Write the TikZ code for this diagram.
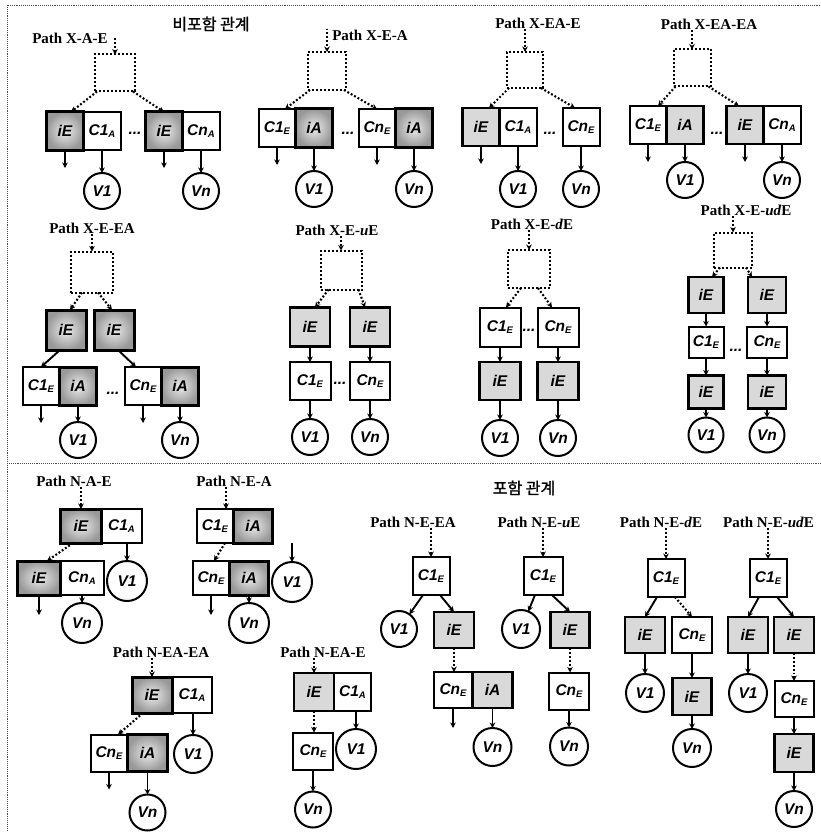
\documentclass[tikz,border=0pt]{standalone}
\usepackage{fontspec}
\usepackage{tikz}
\usetikzlibrary{arrows.meta, positioning}
\setmainfont{Liberation Serif}
\newfontfamily\cellsans{Liberation Sans}
\newfontfamily\krfont[FakeBold=1.5]{Noto Sans CJK KR}
\newcommand{\cellfont}{\cellsans\bfseries\itshape\fontsize{15.5}{15.5}\selectfont}
\newcommand{\labfont}{\bfseries\fontsize{15}{17}\selectfont}
\newcommand{\lsub}[1]{\raisebox{-2.5pt}{\fontsize{9.5}{9.5}\selectfont #1}}

\begin{document}
\begin{tikzpicture}[x=1pt, y=-1pt,
    cell/.style={draw, line width=2pt, minimum width=37pt, minimum height=38pt,
                 inner sep=0pt, outer sep=0pt, font=\cellfont},
    dcell/.style={cell, line width=3pt, inner color=gray!15, outer color=gray!80},
    lcell/.style={cell, line width=2.6pt, fill=gray!30},
    vtx/.style={circle, draw, line width=2pt, minimum size=36pt, inner sep=0pt,
                outer sep=0pt, font=\cellfont},
    hole/.style={draw, dotted, line width=2pt, minimum width=40pt, minimum height=37pt,
                 inner sep=0pt, outer sep=0pt},
    plabel/.style={font=\labfont, inner sep=1pt},
    ttl/.style={font=\krfont\fontsize{16}{18}\selectfont},
    dots/.style={font=\cellfont, inner sep=0pt},
    conn/.style={-{Stealth[length=5.5pt, width=5.5pt]}, line width=1.9pt},
    dconn/.style={conn, dotted, line width=2.1pt},
    frameline/.style={gray!60!black, densely dotted, line width=0.9pt},
]
    \useasboundingbox (0,0) rectangle (820,832);

    % Frame
    \draw[frameline] (7,840) -- (7,5) -- (830,5);
    \draw[frameline] (7,463) -- (830,463);
    \node[ttl] (top-ttl) at (211,24) {비포함 관계};
    \node[ttl] (bot-ttl) at (524,488) {포함 관계};

    % Path X-A-E
    \node[plabel] (xae-lab) at (70,38) {Path X-A-E};
    \node[hole] (xae-h) at (115,73) {};
    \node[dcell] (xae-ie1) at (65,131) {iE};
    \node[cell, right=0pt of xae-ie1] (xae-c1) {C1\lsub{A}};
    \node[dots] (xae-dots) at (135,133) {...};
    \node[dcell] (xae-ie2) at (164,131) {iE};
    \node[cell, right=0pt of xae-ie2] (xae-cn) {Cn\lsub{A}};
    \node[vtx, below=23pt of xae-c1] (xae-v1) {V1};
    \node[vtx, below=23pt of xae-cn] (xae-vn) {Vn};
    \coordinate (xae-o1) at ([yshift=-18pt]xae-ie1.south);
    \coordinate (xae-o2) at ([yshift=-18pt]xae-ie2.south);
    \draw[dconn] (xae-h.north |- xae-lab.center) -- (xae-h.north);
    \draw[dconn] ([xshift=2pt]xae-h.south west) -- ([xshift=6pt]xae-ie1.north);
    \draw[dconn] ([xshift=-2pt]xae-h.south east) -- (xae-ie2.north);
    \draw[conn] (xae-ie1) -- (xae-o1);
    \draw[conn] (xae-c1) -- (xae-v1);
    \draw[conn] (xae-ie2) -- (xae-o2);
    \draw[conn] (xae-cn) -- (xae-vn);

    % Path X-E-A
    \node[plabel] (xea-lab) at (370,35) {Path X-E-A};
    \node[hole, minimum width=38pt, minimum height=38pt] (xea-h) at (327,71) {};
    \node[cell] (xea-c1) at (277,128) {C1\lsub{E}};
    \node[dcell, right=0pt of xea-c1] (xea-ia1) {iA};
    \node[dots] (xea-dots) at (348,133) {...};
    \node[cell] (xea-cn) at (377,128) {Cn\lsub{E}};
    \node[dcell, right=0pt of xea-cn] (xea-ia2) {iA};
    \node[vtx, below=24pt of xea-ia1] (xea-v1) {V1};
    \node[vtx, below=24pt of xea-ia2] (xea-vn) {Vn};
    \coordinate (xea-o1) at ([yshift=-18pt]xea-c1.south);
    \coordinate (xea-o2) at ([yshift=-18pt]xea-cn.south);
    \draw[dconn] (xea-h.north |- xea-lab.north) -- (xea-h.north);
    \draw[dconn] ([xshift=2pt]xea-h.south west) -- ([xshift=8pt]xea-c1.north);
    \draw[dconn] ([xshift=-2pt]xea-h.south east) -- (xea-cn.north);
    \draw[conn] (xea-c1) -- (xea-o1);
    \draw[conn] (xea-ia1) -- (xea-v1);
    \draw[conn] (xea-cn) -- (xea-o2);
    \draw[conn] (xea-ia2) -- (xea-vn);

    % Path X-EA-E
    \node[plabel] (xeae-lab) at (538,23) {Path X-EA-E};
    \node[hole, minimum width=36pt, minimum height=36pt] (xeae-h) at (525,70) {};
    \node[lcell] (xeae-ie) at (481,127) {iE};
    \node[cell, right=0pt of xeae-ie] (xeae-c1) {C1\lsub{A}};
    \node[dots] (xeae-dots) at (550,133) {...};
    \node[cell] (xeae-cn) at (581,127) {Cn\lsub{E}};
    \node[vtx, below=25pt of xeae-c1] (xeae-v1) {V1};
    \node[vtx, below=25pt of xeae-cn] (xeae-vn) {Vn};
    \coordinate (xeae-o1) at ([yshift=-18pt]xeae-ie.south);
    \draw[dconn] (xeae-h.north |- xeae-lab.south) -- (xeae-h.north);
    \draw[dconn] ([xshift=2pt]xeae-h.south west) -- ([xshift=8pt]xeae-ie.north);
    \draw[dconn] ([xshift=-2pt]xeae-h.south east) -- ([xshift=-6pt]xeae-cn.north);
    \draw[conn] (xeae-ie) -- (xeae-o1);
    \draw[conn] (xeae-c1) -- (xeae-v1);
    \draw[conn] (xeae-cn) -- (xeae-vn);

    % Path X-EA-EA
    \node[plabel] (xeaea-lab) at (709,24) {Path X-EA-EA};
    \node[hole, minimum width=37pt, minimum height=37pt] (xeaea-h) at (692,68) {};
    \node[cell] (xeaea-c1) at (648,125) {C1\lsub{E}};
    \node[lcell, right=0pt of xeaea-c1] (xeaea-ia) {iA};
    \node[dots] (xeaea-dots) at (717,133) {...};
    \node[lcell] (xeaea-ie) at (745,125) {iE};
    \node[cell, right=0pt of xeaea-ie] (xeaea-cn) {Cn\lsub{A}};
    \node[vtx, below=18pt of xeaea-ia] (xeaea-v1) {V1};
    \node[vtx, below=18pt of xeaea-cn] (xeaea-vn) {Vn};
    \coordinate (xeaea-o1) at ([yshift=-18pt]xeaea-c1.south);
    \coordinate (xeaea-o2) at ([yshift=-18pt]xeaea-ie.south);
    \draw[dconn] (xeaea-h.north |- xeaea-lab.south) -- (xeaea-h.north);
    \draw[dconn] ([xshift=2pt]xeaea-h.south west) -- ([xshift=10pt]xeaea-c1.north);
    \draw[dconn] ([xshift=-2pt]xeaea-h.south east) -- ([xshift=-6pt]xeaea-ie.north);
    \draw[conn] (xeaea-c1) -- (xeaea-o1);
    \draw[conn] (xeaea-ia) -- (xeaea-v1);
    \draw[conn] (xeaea-ie) -- (xeaea-o2);
    \draw[conn] (xeaea-cn) -- (xeaea-vn);

    % Path X-E-EA
    \node[plabel] (xeea-lab) at (92,228) {Path X-E-EA};
    \node[hole, minimum width=42pt, minimum height=41pt] (xeea-h) at (92,272) {};
    \node[dcell, minimum width=40pt, minimum height=40pt] (xeea-ie1) at (66,330) {iE};
    \node[dcell, minimum width=40pt, minimum height=40pt] (xeea-ie2) at (114,330) {iE};
    \node[cell] (xeea-c1) at (41,386) {C1\lsub{E}};
    \node[dcell, right=0pt of xeea-c1] (xeea-ia1) {iA};
    \node[dots] (xeea-dots) at (113,393) {...};
    \node[cell] (xeea-cn) at (143,386) {Cn\lsub{E}};
    \node[dcell, right=0pt of xeea-cn] (xeea-ia2) {iA};
    \node[vtx, below=17pt of xeea-ia1] (xeea-v1) {V1};
    \node[vtx, below=17pt of xeea-ia2] (xeea-vn) {Vn};
    \coordinate (xeea-o1) at ([yshift=-18pt]xeea-c1.south);
    \coordinate (xeea-o2) at ([yshift=-18pt]xeea-cn.south);
    \draw[dconn] (xeea-h.north |- xeea-lab.south) -- (xeea-h.north);
    \draw[dconn] ([xshift=-10pt]xeea-h.south) -- ([xshift=4pt]xeea-ie1.north);
    \draw[dconn] ([xshift=6pt]xeea-h.south) -- ([xshift=-2pt]xeea-ie2.north);
    \draw[conn] ([xshift=-6pt]xeea-ie1.south) -- (xeea-c1.north);
    \draw[conn] ([xshift=4pt]xeea-ie2.south) -- ([xshift=-7pt]xeea-cn.north);
    \draw[conn] (xeea-c1) -- (xeea-o1);
    \draw[conn] (xeea-ia1) -- (xeea-v1);
    \draw[conn] (xeea-cn) -- (xeea-o2);
    \draw[conn] (xeea-ia2) -- (xeea-vn);

    % Path X-E-uE
    \node[plabel] (xeue-lab) at (337,230) {Path X-E-\textit{u}E};
    \node[hole, minimum width=41pt, minimum height=39pt] (xeue-h) at (341,270) {};
    \node[lcell, minimum width=40pt, minimum height=39pt] (xeue-ie1) at (310,327) {iE};
    \node[lcell, minimum width=40pt, minimum height=39pt] (xeue-ie2) at (370,327) {iE};
    \node[cell, minimum width=41pt] (xeue-c1) at (310,381) {C1\lsub{E}};
    \node[cell, minimum width=40pt] (xeue-cn) at (370,381) {Cn\lsub{E}};
    \node[dots] (xeue-dots) at (340,383) {...};
    \node[vtx, below=19pt of xeue-c1] (xeue-v1) {V1};
    \node[vtx, below=19pt of xeue-cn] (xeue-vn) {Vn};
    \draw[dconn] (xeue-h.north |- xeue-lab.south) -- (xeue-h.north);
    \draw[dconn] ([xshift=8pt]xeue-h.south west) -- ([xshift=5pt]xeue-ie1.north);
    \draw[dconn] ([xshift=-3pt]xeue-h.south east) -- ([xshift=-5pt]xeue-ie2.north);
    \draw[conn] (xeue-ie1) -- (xeue-c1);
    \draw[conn] (xeue-ie2) -- (xeue-cn);
    \draw[conn] (xeue-c1) -- (xeue-v1);
    \draw[conn] (xeue-cn) -- (xeue-vn);

    % Path X-E-dE
    \node[plabel] (xede-lab) at (532,224) {Path X-E-\textit{d}E};
    \node[hole, minimum width=42pt, minimum height=38pt] (xede-h) at (529,269) {};
    \node[cell, minimum width=41pt, minimum height=39pt] (xede-c1) at (500,327) {C1\lsub{E}};
    \node[cell, minimum width=41pt, minimum height=39pt] (xede-cn) at (558,327) {Cn\lsub{E}};
    \node[dots] (xede-dots) at (529,330) {...};
    \node[lcell, minimum width=41pt] (xede-ie1) at (500,381) {iE};
    \node[lcell, minimum width=41pt] (xede-ie2) at (558,381) {iE};
    \node[vtx, below=20pt of xede-ie1] (xede-v1) {V1};
    \node[vtx, below=20pt of xede-ie2] (xede-vn) {Vn};
    \draw[dconn] (xede-h.north |- xede-lab.south) -- (xede-h.north);
    \draw[dconn] ([xshift=-8pt]xede-h.south) -- ([xshift=6pt]xede-c1.north);
    \draw[dconn] ([xshift=9pt]xede-h.south) -- ([xshift=-6pt]xede-cn.north);
    \draw[conn] (xede-c1) -- (xede-ie1);
    \draw[conn] (xede-cn) -- (xede-ie2);
    \draw[conn] (xede-ie1) -- (xede-v1);
    \draw[conn] (xede-ie2) -- (xede-vn);

    % Path X-E-udE
    \node[plabel] (xeude-lab) at (746,210) {Path X-E-\textit{ud}E};
    \node[hole, minimum width=38pt, minimum height=35pt] (xeude-h) at (733,250) {};
    \node[lcell, minimum width=35pt, minimum height=36pt] (xeude-ie1) at (706,295) {iE};
    \node[lcell, minimum width=38pt, minimum height=36pt] (xeude-ie2) at (767,295) {iE};
    \node[cell, minimum width=35pt, minimum height=31pt] (xeude-c1) at (706,342) {C1\lsub{E}};
    \node[cell, minimum width=40pt, minimum height=31pt] (xeude-cn) at (767,342) {Cn\lsub{E}};
    \node[dots] (xeude-dots) at (736,350) {...};
    \node[lcell, minimum width=35pt, minimum height=33pt] (xeude-ie3) at (706,392) {iE};
    \node[lcell, minimum width=38pt, minimum height=33pt] (xeude-ie4) at (767,392) {iE};
    \node[vtx, minimum size=35pt, below=9pt of xeude-ie3] (xeude-v1) {V1};
    \node[vtx, minimum size=35pt, below=9pt of xeude-ie4] (xeude-vn) {Vn};
    \draw[dconn] (xeude-h.north |- xeude-lab.south) -- (xeude-h.north);
    \draw[dconn] ([xshift=-13pt]xeude-h.south) -- ([xshift=6pt]xeude-ie1.north);
    \draw[dconn] ([xshift=13pt]xeude-h.south) -- ([xshift=-15pt]xeude-ie2.north);
    \draw[conn] (xeude-ie1) -- (xeude-c1);
    \draw[conn] (xeude-ie2) -- (xeude-cn);
    \draw[conn] (xeude-c1) -- (xeude-ie3);
    \draw[conn] (xeude-cn) -- (xeude-ie4);
    \draw[conn] (xeude-ie3) -- (xeude-v1);
    \draw[conn] (xeude-ie4) -- (xeude-vn);

    % Path N-A-E
    \node[plabel] (nae-lab) at (74,481) {Path N-A-E};
    \node[dcell, minimum width=41pt, minimum height=34pt] (nae-ie1) at (81,526) {iE};
    \node[cell, minimum width=40pt, minimum height=34pt, right=0pt of nae-ie1] (nae-c1) {C1\lsub{A}};
    \node[dcell, minimum width=43pt, minimum height=34pt] (nae-ie2) at (39,578) {iE};
    \node[cell, minimum width=43pt, minimum height=34pt, right=0pt of nae-ie2] (nae-cn) {Cn\lsub{A}};
    \node[vtx, minimum size=40pt] (nae-v1) at (127,581) {V1};
    \node[vtx, minimum size=40pt, below=8pt of nae-cn] (nae-vn) {Vn};
    \coordinate (nae-o1) at ([yshift=-20pt]nae-ie2.south);
    \draw[dconn] (nae-ie1.north |- nae-lab.south) -- (nae-ie1.north);
    \draw[dconn] ([xshift=-8pt]nae-ie1.south) -- ([xshift=8pt]nae-ie2.north);
    \draw[conn] (nae-v1.north |- nae-c1.south) -- (nae-v1.north);
    \draw[conn] (nae-ie2) -- (nae-o1);
    \draw[conn] (nae-cn) -- (nae-vn);

    % Path N-E-A
    \node[plabel] (nea-lab) at (234,481) {Path N-E-A};
    \node[cell, minimum height=34pt] (nea-c1) at (215,526) {C1\lsub{E}};
    \node[dcell, minimum width=39pt, minimum height=34pt, right=0pt of nea-c1] (nea-ia1) {iA};
    \node[cell, minimum height=34pt] (nea-cn) at (211,578) {Cn\lsub{E}};
    \node[dcell, minimum width=39pt, minimum height=34pt, right=0pt of nea-cn] (nea-ia2) {iA};
    \node[vtx, minimum size=40pt] (nea-v1) at (292,582) {V1};
    \node[vtx, minimum size=40pt, below=8pt of nea-ia2] (nea-vn) {Vn};
    \coordinate (nea-o1) at ([yshift=-20pt]nea-cn.south);
    \draw[dconn] ([xshift=11pt]nea-c1.north |- nea-lab.south) -- ([xshift=11pt]nea-c1.north);
    \draw[dconn] ([xshift=10pt]nea-c1.south) -- ([xshift=3pt]nea-cn.north);
    \draw[conn] (nea-v1.north |- nea-ia1.south) -- (nea-v1.north);
    \draw[conn] (nea-cn) -- (nea-o1);
    \draw[conn] (nea-ia2) -- (nea-vn);

    % Path N-EA-EA
    \node[plabel] (neaea-lab) at (161,652) {Path N-EA-EA};
    \node[dcell, minimum width=40pt, minimum height=36pt] (neaea-ie) at (152,695) {iE};
    \node[cell, minimum width=40pt, minimum height=36pt, right=0pt of neaea-ie] (neaea-c1) {C1\lsub{A}};
    \node[cell, minimum height=37pt] (neaea-cn) at (109,753) {Cn\lsub{E}};
    \node[dcell, minimum width=40pt, minimum height=37pt, right=0pt of neaea-cn] (neaea-ia) {iA};
    \node[vtx, minimum size=38pt] (neaea-v1) at (193,754) {V1};
    \node[vtx, below=23pt of neaea-ia] (neaea-vn) {Vn};
    \coordinate (neaea-o1) at ([yshift=-18pt]neaea-cn.south);
    \draw[dconn] (neaea-ie.north |- neaea-lab.south) -- (neaea-ie.north);
    \draw[dconn] ([xshift=-9pt]neaea-ie.south) -- ([xshift=9pt]neaea-cn.north);
    \draw[conn] (neaea-v1.north |- neaea-c1.south) -- (neaea-v1.north);
    \draw[conn] (neaea-cn) -- (neaea-o1);
    \draw[conn] (neaea-ia) -- (neaea-vn);

    % Path N-EA-E
    \node[plabel] (neae-lab) at (323,652) {Path N-EA-E};
    \node[lcell, minimum width=40pt] (neae-ie) at (314,692) {iE};
    \node[cell, right=0pt of neae-ie] (neae-c1) {C1\lsub{A}};
    \node[cell, minimum width=40pt, minimum height=37pt] (neae-cn) at (313,751) {Cn\lsub{E}};
    \node[vtx, minimum size=40pt] (neae-v1) at (356,749) {V1};
    \node[vtx, below=22pt of neae-cn] (neae-vn) {Vn};
    \draw[dconn] (neae-ie.north |- neae-lab.south) -- (neae-ie.north);
    \draw[dconn] (neae-ie.south) -- (neae-ie.south |- neae-cn.north);
    \draw[conn] (neae-v1.north |- neae-c1.south) -- (neae-v1.north);
    \draw[conn] (neae-cn) -- (neae-vn);

    % Path N-E-EA
    \node[plabel] (neea-lab) at (413,522) {Path N-E-EA};
    \node[cell] (neea-c1) at (431,576) {C1\lsub{E}};
    \node[vtx] (neea-v1) at (399,629) {V1};
    \node[lcell, minimum width=40pt, minimum height=36pt] (neea-ie) at (454,630) {iE};
    \node[cell, minimum width=39pt, minimum height=36pt] (neea-cn) at (453,690) {Cn\lsub{E}};
    \node[lcell, minimum width=40pt, minimum height=36pt, right=0pt of neea-cn] (neea-ia) {iA};
    \node[vtx, minimum size=38pt, below=20pt of neea-ia] (neea-vn) {Vn};
    \coordinate (neea-o1) at ([yshift=-20pt]neea-cn.south);
    \draw[dconn] (neea-c1.north |- neea-lab.south) -- (neea-c1.north);
    \draw[conn] ([xshift=-8pt]neea-c1.south) -- (neea-v1);
    \draw[conn] ([xshift=9pt]neea-c1.south) -- (neea-ie.north);
    \draw[dconn] (neea-ie.south) -- (neea-ie.south |- neea-cn.north);
    \draw[conn] (neea-cn) -- (neea-o1);
    \draw[conn] (neea-ia) -- (neea-vn);

    % Path N-E-uE
    \node[plabel] (neue-lab) at (539,522) {Path N-E-\textit{u}E};
    \node[cell, minimum width=39pt] (neue-c1) at (543,576) {C1\lsub{E}};
    \node[vtx, minimum size=38pt] (neue-v1) at (521,629) {V1};
    \node[lcell, minimum width=39pt, minimum height=36pt] (neue-ie) at (570,630) {iE};
    \node[cell, minimum width=40pt, minimum height=37pt] (neue-cn) at (569,691) {Cn\lsub{E}};
    \node[vtx, minimum size=38pt, below=18pt of neue-cn] (neue-vn) {Vn};
    \draw[dconn] (neue-c1.north |- neue-lab.south) -- (neue-c1.north);
    \draw[conn] ([xshift=-8pt]neue-c1.south) -- (neue-v1);
    \draw[conn] ([xshift=9pt]neue-c1.south) -- (neue-ie.north);
    \draw[dconn] (neue-ie.south) -- (neue-ie.south |- neue-cn.north);
    \draw[conn] (neue-cn) -- (neue-vn);

    % Path N-E-dE
    \node[plabel] (nede-lab) at (661,522) {Path N-E-\textit{d}E};
    \node[cell] (nede-c1) at (666,578) {C1\lsub{E}};
    \node[lcell, minimum width=40pt, minimum height=36pt] (nede-ie1) at (645,635) {iE};
    \node[cell, minimum width=40pt, minimum height=36pt] (nede-cn) at (692,635) {Cn\lsub{E}};
    \node[vtx, minimum size=38pt, below=21pt of nede-ie1] (nede-v1) {V1};
    \node[lcell, minimum width=39pt, minimum height=37pt, below=25pt of nede-cn] (nede-ie2) {iE};
    \node[vtx, minimum size=38pt, below=14pt of nede-ie2] (nede-vn) {Vn};
    \draw[dconn] (nede-c1.north |- nede-lab.south) -- (nede-c1.north);
    \draw[conn] ([xshift=-9pt]nede-c1.south) -- (nede-ie1.north);
    \draw[dconn] ([xshift=9pt]nede-c1.south) -- (nede-cn.north);
    \draw[conn] (nede-ie1) -- (nede-v1);
    \draw[conn] (nede-cn) -- (nede-ie2);
    \draw[conn] (nede-ie2) -- (nede-vn);

    % Path N-E-udE
    \node[plabel, anchor=west] (neude-lab) at (722,522) {Path N-E-\textit{ud}E};
    \node[cell] (neude-c1) at (768,578) {C1\lsub{E}};
    \node[lcell, minimum width=40pt, minimum height=36pt] (neude-ie1) at (748,635) {iE};
    \node[lcell, minimum width=40pt, minimum height=36pt] (neude-ie2) at (794,635) {iE};
    \node[vtx, minimum size=38pt, below=21pt of neude-ie1] (neude-v1) {V1};
    \node[cell, minimum width=39pt, minimum height=36pt, below=28pt of neude-ie2] (neude-cn) {Cn\lsub{E}};
    \node[lcell, minimum width=39pt, minimum height=38pt, below=17pt of neude-cn] (neude-ie3) {iE};
    \node[vtx, below=19pt of neude-ie3] (neude-vn) {Vn};
    \draw[dconn] (neude-c1.north |- neude-lab.south) -- (neude-c1.north);
    \draw[conn] ([xshift=-9pt]neude-c1.south) -- (neude-ie1.north);
    \draw[conn] ([xshift=9pt]neude-c1.south) -- (neude-ie2.north);
    \draw[conn] (neude-ie1) -- (neude-v1);
    \draw[dconn] (neude-ie2) -- (neude-cn);
    \draw[conn] (neude-cn) -- (neude-ie3);
    \draw[conn] (neude-ie3) -- (neude-vn);
\end{tikzpicture}
\end{document}
